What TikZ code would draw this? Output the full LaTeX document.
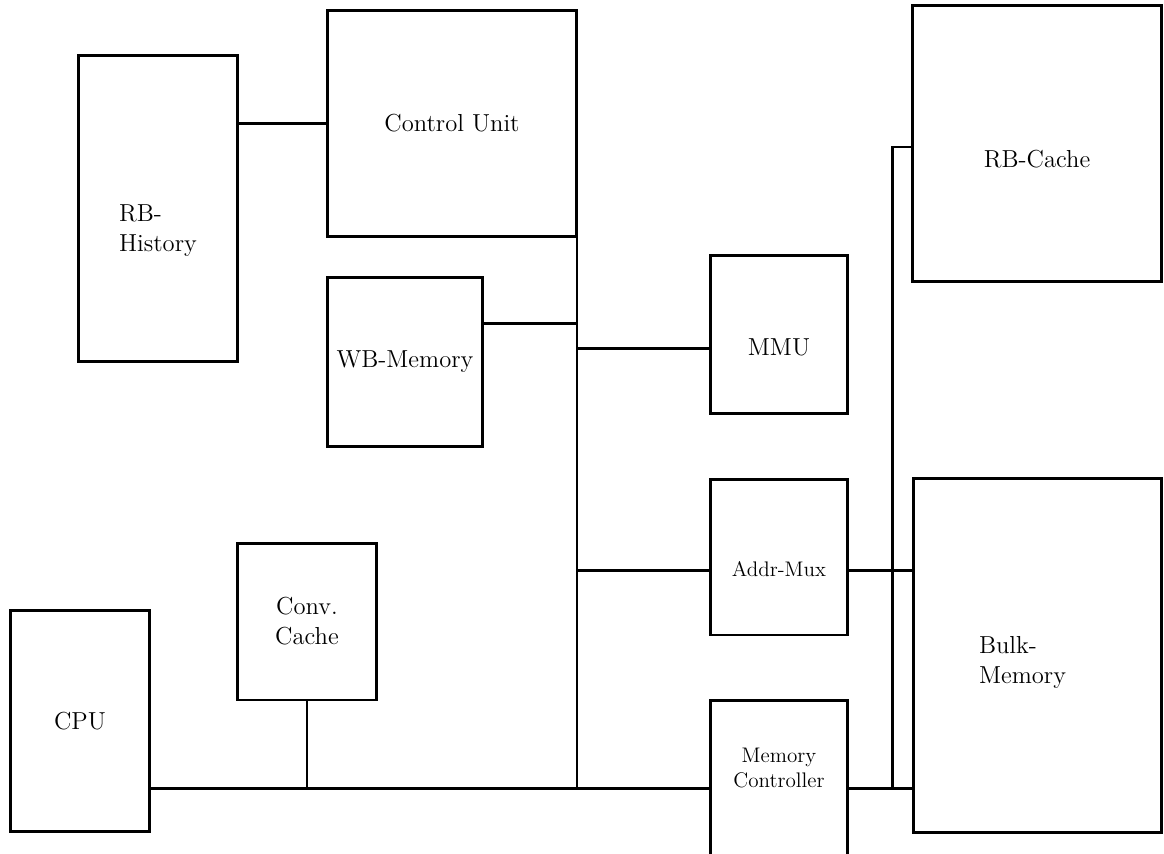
\documentclass[tikz,border=0pt]{standalone}
\begin{document}
\begin{tikzpicture}[x=0.02cm,y=-0.02cm,
    blk/.style={draw,line width=1.7pt,align=center,font=\fontsize{14}{17}\selectfont},
    sml/.style={font=\fontsize{12}{14.5}\selectfont},
    big/.style={font=\fontsize{14}{17}\selectfont,align=left},
    wire/.style={line width=1.7pt}]
    \useasboundingbox (0,0) rectangle (1164,853);
    % boxes
    \node[blk,minimum width=3.2cm,minimum height=6.14cm,
      label={[big,yshift=-0.44cm]center:RB-\\History}] (hist) at (158,208.5) {};
    \node[blk,minimum width=5cm,minimum height=4.54cm] (cu) at (452,123.5) {Control Unit};
    \node[blk,minimum width=3.12cm,minimum height=3.4cm] (wbm) at (405,362) {WB-Memory};
    \node[blk,minimum width=2.76cm,minimum height=3.18cm,text height=0.86cm] (mmu) at (779,334.5) {MMU};
    \node[blk,minimum width=5cm,minimum height=5.54cm,text height=0.99cm] (rbc) at (1037,143.5) {RB-Cache};
    \node[blk,sml,minimum width=2.76cm,minimum height=3.12cm,text height=0.8cm] (amux) at (779,557) {Addr-Mux};
    \node[blk,minimum width=4.98cm,minimum height=7.1cm,
      label={[big,xshift=-0.3cm,yshift=-0.14cm]center:Bulk-\\Memory}] (bulk) at (1037.5,655.5) {};
    \node[blk,minimum width=2.76cm,minimum height=3.4cm,
      label={[sml,align=center,yshift=0.34cm]center:Memory\\Controller}] (mctl) at (779,785) {};
    \node[blk,minimum width=2.8cm,minimum height=3.14cm] (conv) at (307,621.5) {Conv.\\Cache};
    \node[blk,minimum width=2.8cm,minimum height=4.44cm] (cpu) at (80,721) {CPU};
    % bus taps
    \coordinate (bus) at (577,788);
    \coordinate (tapwb) at (577,323);
    \coordinate (tapmmu) at (577,348);
    \coordinate (tapam) at (577,570);
    \coordinate (riser) at (892,147);
    % wires
    \draw[wire] (hist.east |- cu.west) -- (cu.west);
    \draw[wire] (cu.south -| bus) -- (bus);
    \draw[wire] (wbm.east |- tapwb) -- (tapwb);
    \draw[wire] (tapmmu) -- (tapmmu -| mmu.west);
    \draw[wire] (tapam) -- (tapam -| amux.west);
    \draw[wire] (amux.east |- tapam) -- (bulk.west |- tapam);
    \draw[wire] (cpu.east |- bus) -- (mctl.west |- bus);
    \draw[wire] (conv.south) -- (conv.south |- bus);
    \draw[wire] (mctl.east |- bus) -- (bulk.west |- bus);
    \draw[wire] (rbc.west |- riser) -- (riser) -- (riser |- bus);
\end{tikzpicture}
\end{document}
